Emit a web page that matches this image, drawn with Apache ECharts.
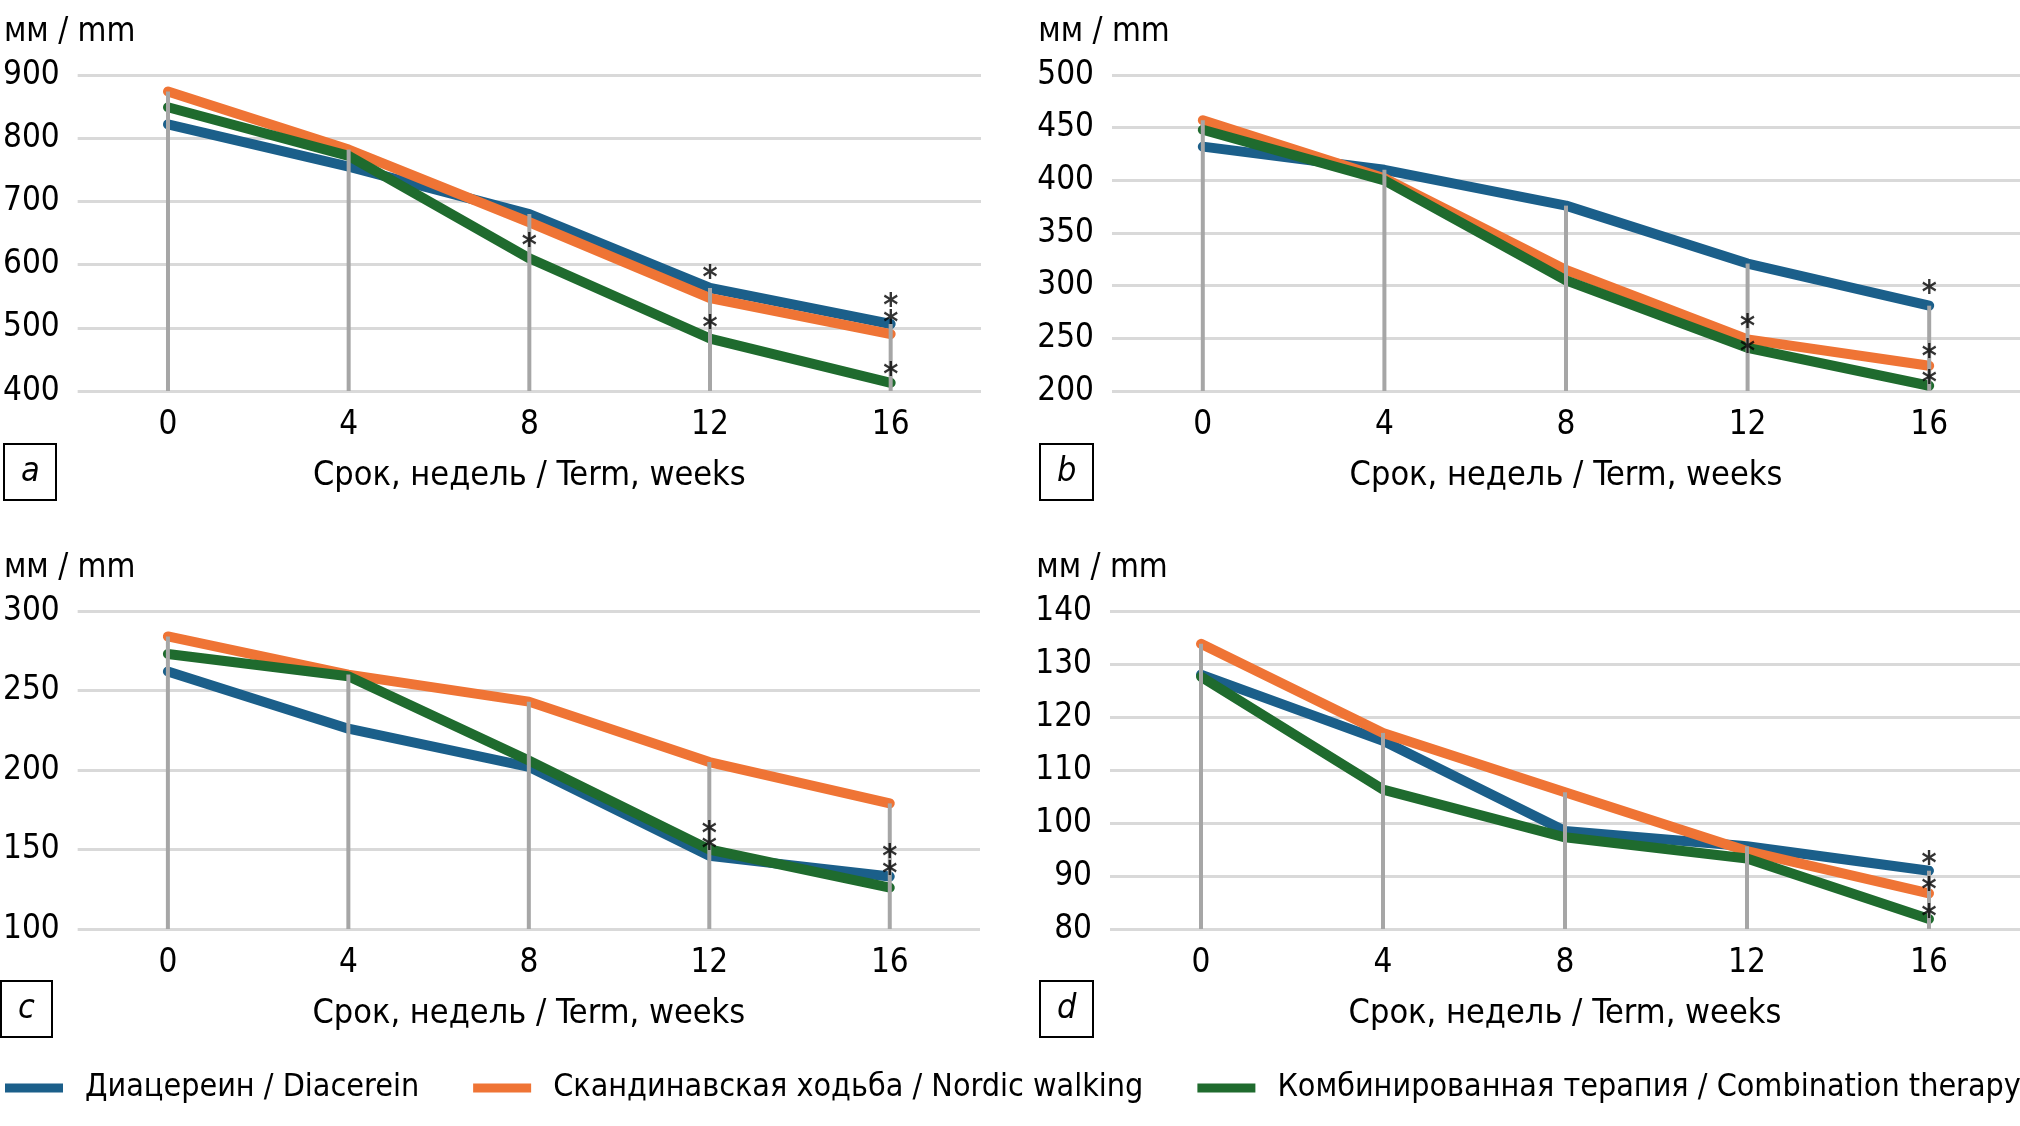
<!DOCTYPE html>
<html>
<head>
<meta charset="utf-8">
<script src="https://cdn.jsdelivr.net/npm/echarts@6/dist/echarts.min.js"></script>
<style>
html,body{margin:0;padding:0;background:#fff;}
#chart{width:2020px;height:1126px;}
</style>
</head>
<body>
<div id="chart"></div>
<script>
const weeks = ['0', '4', '8', '12', '16'];
const seriesNames = ['Диацереин / Diacerein', 'Скандинавская ходьба / Nordic walking', 'Комбинированная терапия / Combination therapy'];
const panelLetters = ['a', 'b', 'c', 'd'];
const unitLabel = 'мм / mm';
const xAxisName = 'Срок, недель / Term, weeks';

// axis ranges [min, max, interval]
const axisA = [400, 900, 100];
const axisB = [200, 500, 50];
const axisC = [100, 300, 50];
const axisD = [80, 140, 10];

// panel a
const diacereinA = [822, 755, 680, 563, 506];
const nordicA = [874, 782, 667, 547, 490];
const comboA = [849, 772, 610, 483, 413];
const starsA = [[2, 639], [3, 589], [3, 510], [4, 544], [4, 518], [4, 436]];
// panel b
const diacereinB = [432, 410, 376, 321, 281];
const nordicB = [457, 402, 315, 249, 224];
const comboB = [448, 400, 305, 241, 205];
const starsB = [[3, 267], [3, 243], [4, 299], [4, 238], [4, 214]];
// panel c
const diacereinC = [262, 226, 202, 146, 133];
const nordicC = [284, 260, 243, 205, 179];
const comboC = [273, 259, 206, 150, 126];
const starsC = [[3, 164], [3, 154], [4, 149.5], [4, 138.5]];
// panel d
const diacereinD = [128, 115.5, 98.5, 95.6, 91];
const nordicD = [133.8, 117, 105.8, 94.7, 86.7];
const comboD = [127.6, 106.3, 97.3, 93.3, 81.9];
const starsD = [[4, 93.4], [4, 88.5], [4, 83.5]];

const FONT = "'DejaVu Sans Condensed', 'Roboto', sans-serif";
const COLORS = ['#1b5f8a', '#ef7435', '#1f6b2e'];

const panels = [
  {axis: axisA, data: [diacereinA, nordicA, comboA], stars: starsA},
  {axis: axisB, data: [diacereinB, nordicB, comboB], stars: starsB},
  {axis: axisC, data: [diacereinC, nordicC, comboC], stars: starsC},
  {axis: axisD, data: [diacereinD, nordicD, comboD], stars: starsD}
];

const gridPos = [
  {left: 72, top: 75, width: 909, height: 316},
  {left: 1112, top: 75, width: 909, height: 316},
  {left: 71, top: 611, width: 909, height: 318},
  {left: 1110, top: 611, width: 911, height: 318}
];
const boxPos = [
  {left: 4, top: 444}, {left: 1040, top: 444},
  {left: 1, top: 981}, {left: 1040, top: 981}
];

const grids = [], xAxes = [], yAxes = [], series = [], titles = [];

panels.forEach((p, i) => {
  grids.push(Object.assign({containLabel: false}, gridPos[i]));
  xAxes.push({
    type: 'category', gridIndex: i, data: weeks, boundaryGap: true,
    axisLine: {show: false}, axisTick: {show: false},
    axisLabel: {color: '#000', fontFamily: FONT, fontSize: 33, margin: 18},
    name: xAxisName, nameLocation: 'middle', nameGap: 68,
    nameTextStyle: {color: '#000', fontFamily: FONT, fontSize: 34}
  });
  yAxes.push({
    type: 'value', gridIndex: i, min: p.axis[0], max: p.axis[1], interval: p.axis[2],
    axisLine: {show: false}, axisTick: {show: false},
    axisLabel: {color: '#000', fontFamily: FONT, fontSize: 33, margin: 18},
    splitLine: {show: true, lineStyle: {color: '#d9d9d9', width: 3}},
    name: unitLabel, nameLocation: 'end', nameGap: 26,
    nameTextStyle: {color: '#000', fontFamily: FONT, fontSize: 33, padding: [0, 16, 0, 0]}
  });
  p.data.forEach((vals, k) => {
    series.push({
      type: 'line', name: seriesNames[k], xAxisIndex: i, yAxisIndex: i,
      data: vals, symbol: 'none', z: 2,
      lineStyle: {color: COLORS[k], width: 10, cap: 'round', join: 'round'},
      itemStyle: {color: COLORS[k]}
    });
  });
  const maxVals = weeks.map((w, j) => Math.max(...p.data.map(v => v[j])));
  series.push({
    type: 'bar', name: 'drop', xAxisIndex: i, yAxisIndex: i,
    data: maxVals, barWidth: 4, z: 3, silent: true,
    itemStyle: {color: '#a6a6a6'}
  });
  series.push({
    type: 'scatter', name: 'stars', xAxisIndex: i, yAxisIndex: i,
    data: p.stars, symbolSize: 0, z: 4, silent: true,
    label: {show: true, formatter: '*', position: 'inside', color: '#000',
      fontFamily: FONT, fontSize: 32, fontWeight: 'bold', offset: [0, 7]}
  });
  titles.push({
    text: panelLetters[i], left: boxPos[i].left, top: boxPos[i].top,
    padding: [8, 17, 8, 17], borderWidth: 2, borderColor: '#000',
    textStyle: {fontFamily: FONT, fontSize: 34, fontStyle: 'italic', fontWeight: 'normal', color: '#000', lineHeight: 40}
  });
});

const chart = echarts.init(document.getElementById('chart'), null, {renderer: 'canvas'});
chart.setOption({
  animation: false,
  backgroundColor: '#fff',
  title: titles,
  grid: grids,
  xAxis: xAxes,
  yAxis: yAxes,
  legend: {
    data: seriesNames, left: 0, top: 1067, width: 4000, itemWidth: 58, itemHeight: 9, itemGap: 54,
    icon: 'rect',
    textStyle: {fontFamily: FONT, fontSize: 32, color: '#000', padding: [0, 0, 0, 17]}
  },
  series: series
});
</script>
</body>
</html>
